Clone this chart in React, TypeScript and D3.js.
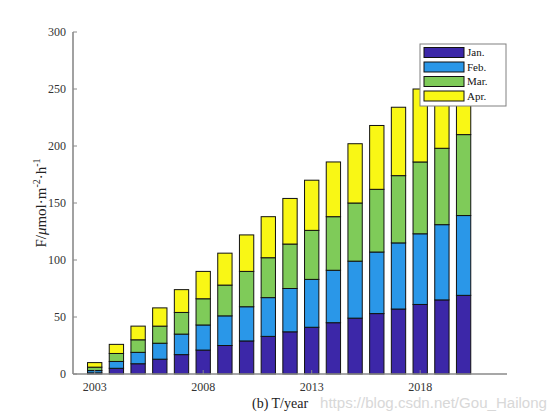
import React from "react";
import * as d3 from "d3";

const years = [2003, 2004, 2005, 2006, 2007, 2008, 2009, 2010, 2011, 2012, 2013, 2014, 2015, 2016, 2017, 2018, 2019, 2020];
const janValues = [1, 5, 9, 13, 17, 21, 25, 29, 33, 37, 41, 45, 49, 53, 57, 61, 65, 69];
const febValues = [2, 6, 10, 14, 18, 22, 26, 30, 34, 38, 42, 46, 50, 54, 58, 62, 66, 70];
const marValues = [3, 7, 11, 15, 19, 23, 27, 31, 35, 39, 43, 47, 51, 55, 59, 63, 67, 71];
const aprValues = [4, 8, 12, 16, 20, 24, 28, 32, 36, 40, 44, 48, 52, 56, 60, 64, 68, 72];
const seriesNames = ["Jan.", "Feb.", "Mar.", "Apr."];
const seriesColors = ["#3c27a8", "#2a97e8", "#7fcb59", "#f9f715"];
const yTicks = [0, 50, 100, 150, 200, 250, 300];
const xTicks = [2003, 2008, 2013, 2018];

const W = 560, H = 420;
const left = 73, right = 507, top = 32, bottom = 374;
const FONT = "'Liberation Serif', 'Times New Roman', serif";

export default function App() {
  const x = d3.scaleLinear().domain([2002, 2022]).range([left, right]);
  const y = d3.scaleLinear().domain([0, 300]).range([bottom, top]);
  const table = years.map((yr, i) => ({ year: yr, Jan: janValues[i], Feb: febValues[i], Mar: marValues[i], Apr: aprValues[i] }));
  const keys = ["Jan", "Feb", "Mar", "Apr"];
  const stacked = d3.stack<any>().keys(keys)(table);
  const bw = (x(2003) - x(2002)) * 0.66;

  return (
    <svg width={W} height={H} style={{ position: "absolute", left: 0, top: 0, background: "#fff" }} fontFamily={FONT}>
      <rect x={0} y={0} width={W} height={H} fill="#fff" />
      {stacked.map((s, si) => (
        <g key={si}>
          {s.map((d, i) => (
            <rect key={i} x={x(years[i]) - bw / 2} y={y(d[1])} width={bw} height={y(d[0]) - y(d[1])}
              fill={seriesColors[si]} stroke="#111" strokeWidth={1} />
          ))}
        </g>
      ))}
      {/* axes */}
      <line x1={left} x2={left} y1={top} y2={bottom} stroke="#8a8a8a" strokeWidth={1.6} />
      <line x1={left} x2={right} y1={bottom} y2={bottom} stroke="#8a8a8a" strokeWidth={1.6} />
      {yTicks.map((t) => (
        <g key={t}>
          <line x1={left} x2={left + 4} y1={y(t)} y2={y(t)} stroke="#8a8a8a" strokeWidth={1} />
          <text x={left - 7} y={y(t)} dy="0.35em" textAnchor="end" fontSize={12} fill="#333">{t}</text>
        </g>
      ))}
      {xTicks.map((t) => (
        <g key={t}>
          <line x1={x(t)} x2={x(t)} y1={bottom} y2={bottom - 4} stroke="#8a8a8a" strokeWidth={1} />
          <text x={x(t)} y={bottom + 17} textAnchor="middle" fontSize={12} fill="#333">{t}</text>
        </g>
      ))}
      {/* y label */}
      <text transform={`translate(46, ${(top + bottom) / 2}) rotate(-90)`} textAnchor="middle" fontSize={15} fill="#222">
        F/<tspan fontStyle="italic">μ</tspan>mol·m<tspan dy={-6} fontSize={10}>-2</tspan><tspan dy={6}>·h</tspan><tspan dy={-6} fontSize={10}>-1</tspan>
      </text>
      {/* x label */}
      <text x={252} y={408} fontSize={14} fill="#222">(b)  T/year</text>
      <text x={320} y={408} fontSize={14} textLength={227} lengthAdjust="spacingAndGlyphs" fill="#d4d4d4" fontFamily="'Liberation Sans', Arial, sans-serif" opacity={0.9}>https://blog.csdn.net/Gou_Hailong</text>
      {/* legend */}
      <rect x={420} y={44} width={86} height={62} fill="#fff" stroke="#808080" strokeWidth={1} />
      {seriesNames.map((n, i) => (
        <g key={n}>
          <rect x={424} y={47.5 + i * 14.5} width={40} height={10} fill={seriesColors[i]} stroke="#111" strokeWidth={1} />
          <text x={467} y={52.5 + i * 14.5} dy="0.35em" fontSize={11} fill="#111">{n}</text>
        </g>
      ))}
    </svg>
  );
}
